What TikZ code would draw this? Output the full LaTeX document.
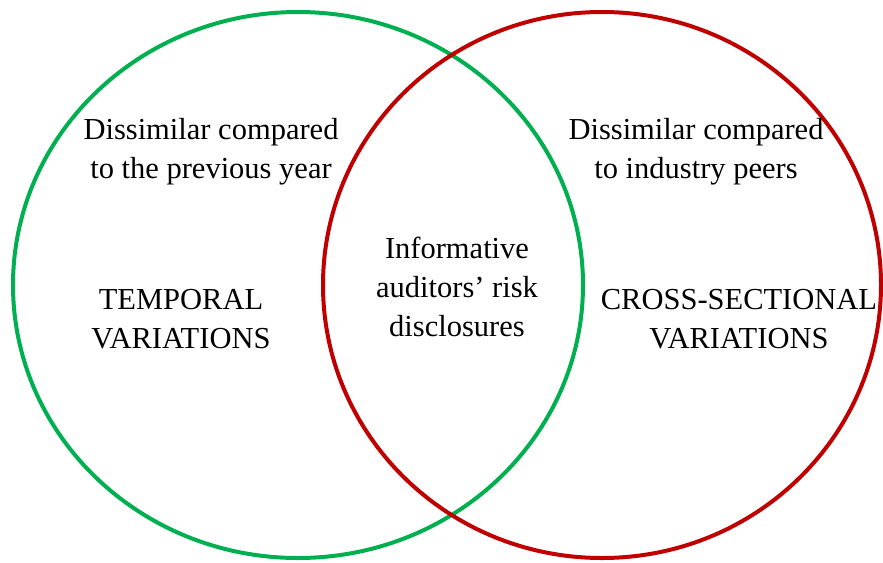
\documentclass[tikz,border=0pt]{standalone}
\usepackage{fontspec}
\setmainfont{Liberation Serif}
\usepackage{tikz}

\definecolor{setgreen}{RGB}{0,176,80}
\definecolor{setred}{RGB}{192,0,0}

\begin{document}
\begin{tikzpicture}[x=1pt,y=-1pt,
    lbl/.style={align=center,font=\fontsize{30.5}{39}\selectfont,inner sep=0pt}]
    \useasboundingbox (0,0) rectangle (883,562);

    \coordinate (cl) at (298,285); \coordinate (cr) at (602,285);
    \draw[setgreen,line width=4pt] (cl) ellipse [x radius=285pt,y radius=273pt];
    \draw[setred,line width=4pt] (cr) ellipse [x radius=279pt,y radius=273pt];

    \node[lbl] (prev) at (211,152) {Dissimilar compared\\to the previous year};
    \node[lbl] (peer) at (696,152) {Dissimilar compared\\to industry peers};
    \node[lbl] (temp) at (181,319) {TEMPORAL\\VARIATIONS};
    \node[lbl] (cross) at (739,319) {CROSS-SECTIONAL\\VARIATIONS};
    \node[lbl] (info) at (457,287) {Informative\\auditors’ risk\\disclosures};
  \end{tikzpicture}
\end{document}
